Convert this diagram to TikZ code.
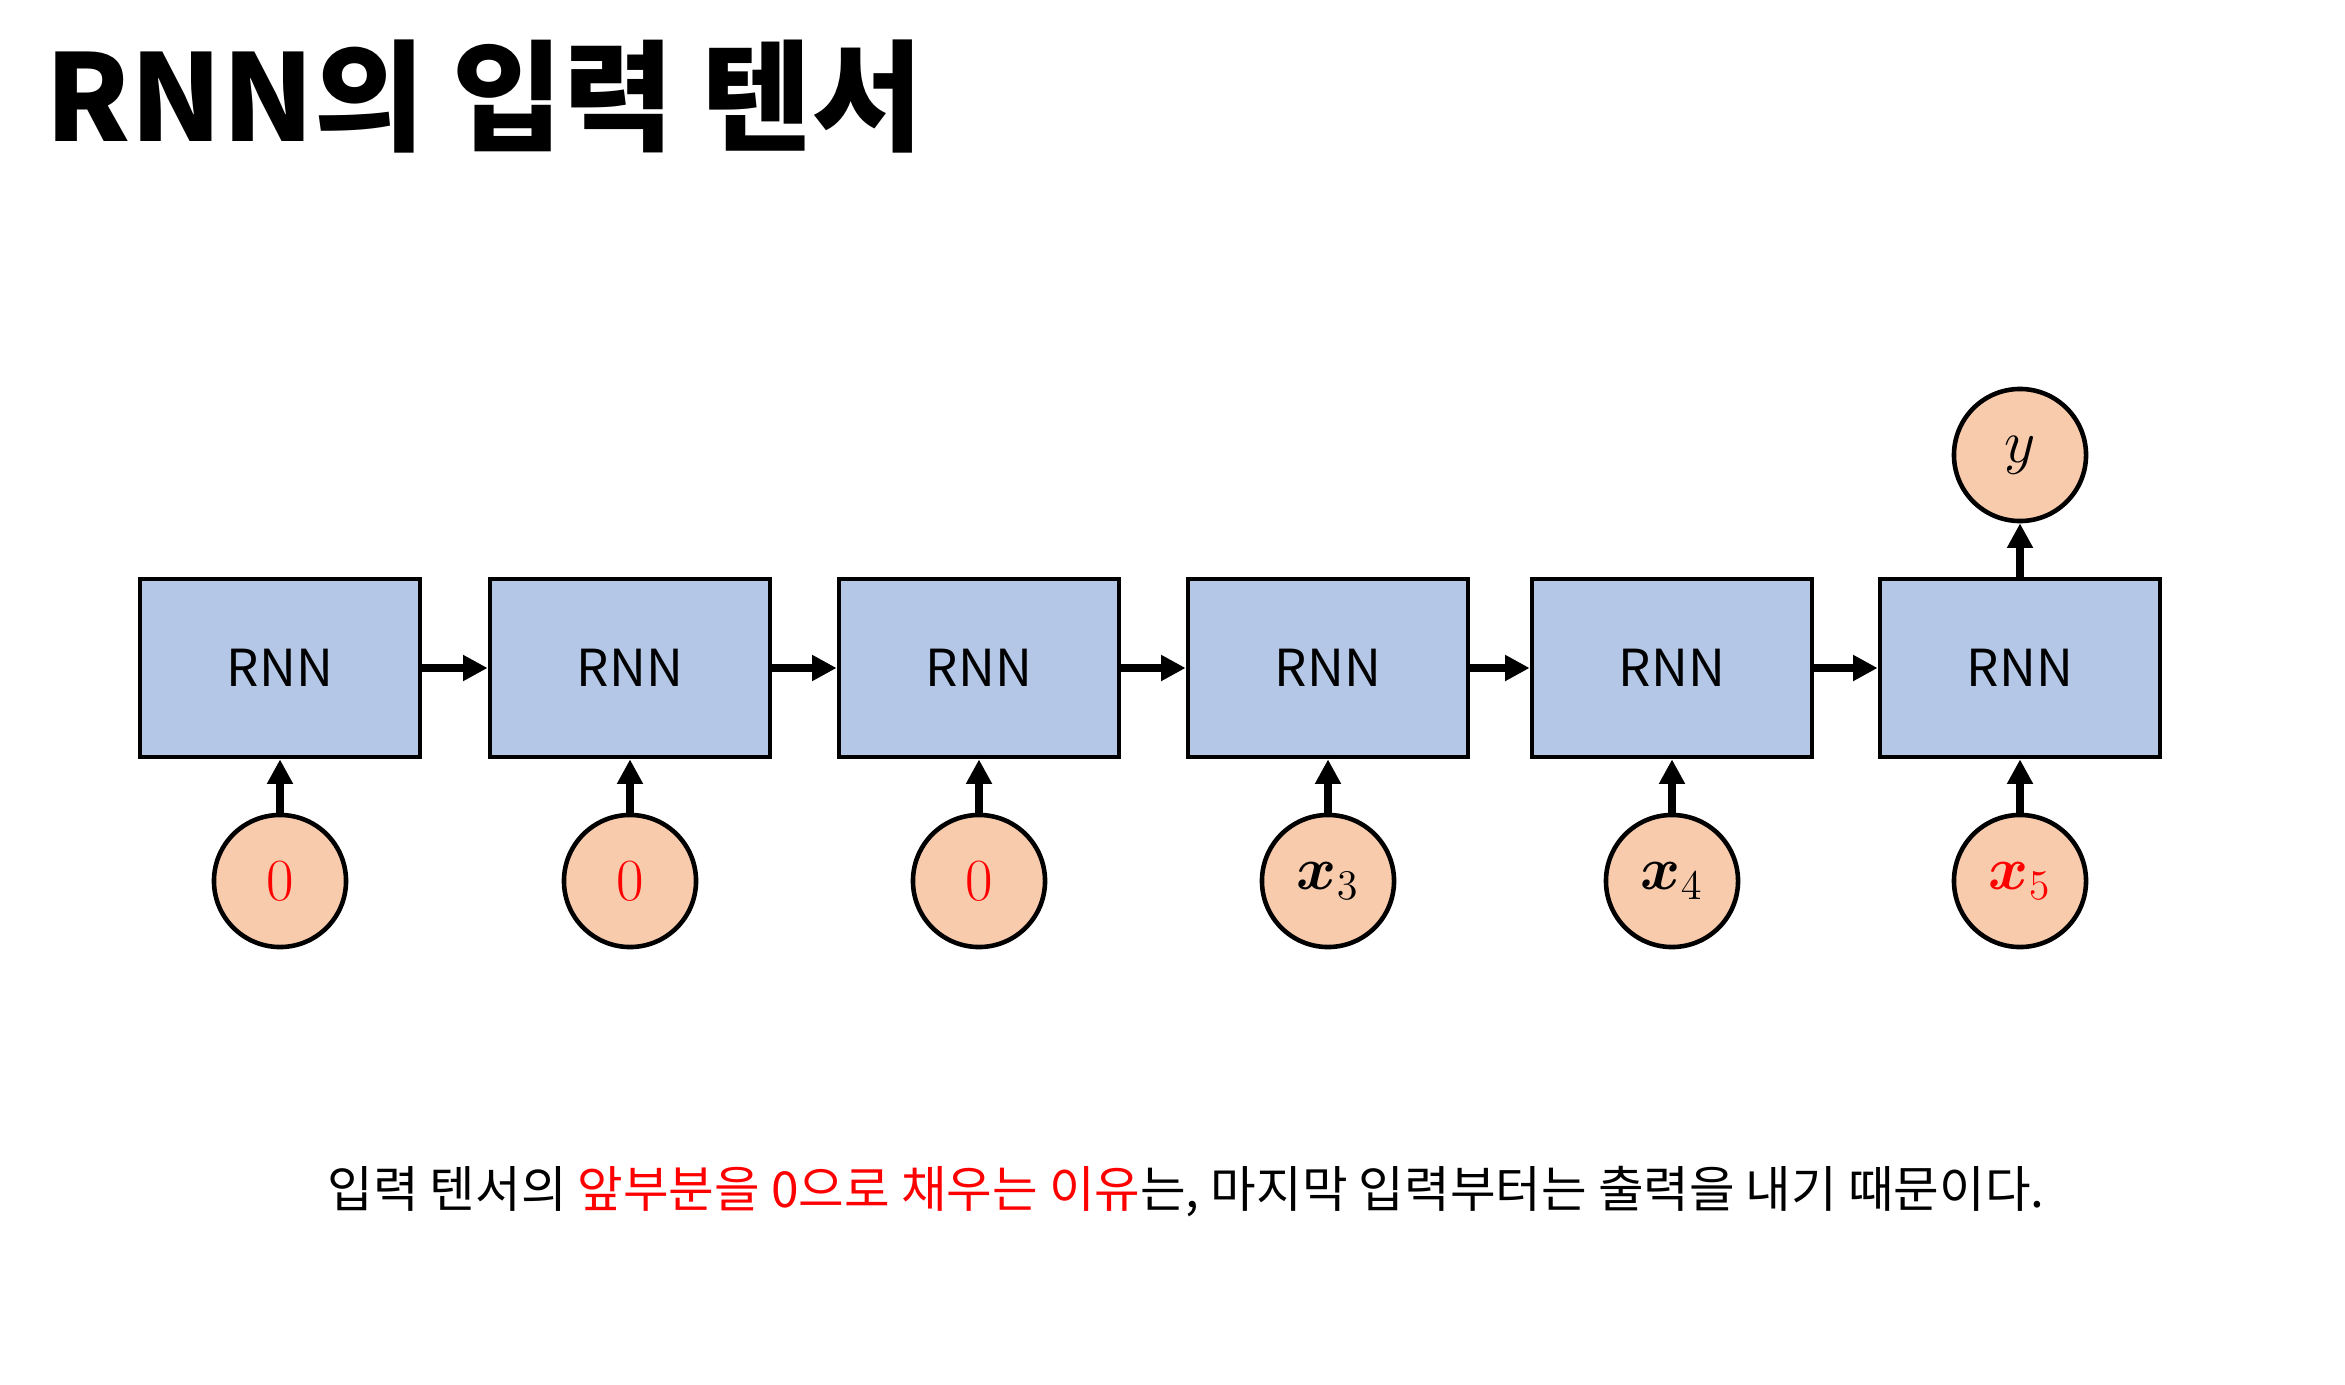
\documentclass[tikz,border=0pt]{standalone}
\usepackage{fontspec}
\usepackage{amsmath,bm}
\newfontfamily\kr{Noto Sans CJK KR}
\usetikzlibrary{arrows.meta}

\definecolor{cellblue}{HTML}{B4C7E7}
\definecolor{datapeach}{HTML}{F8CBAD}
\definecolor{hotred}{HTML}{FF0000}

\begin{document}
\begin{tikzpicture}[x=0.01cm, y=-0.01cm,
  cell/.style={draw, line width=1.3pt, fill=cellblue, minimum width=2.8cm, minimum height=1.78cm, font=\kr\fontsize{14.5}{16}\selectfont},
  datum/.style={draw, circle, line width=1.3pt, fill=datapeach, minimum size=1.32cm, inner sep=0pt, font=\fontsize{17}{19}\selectfont},
  flow/.style={line width=2.2pt, -{Triangle[length=7pt,width=7pt]}}]
\useasboundingbox (0,0) rectangle (2345,1385);
% title
\node[anchor=base west, inner sep=0pt, font=\kr\bfseries\fontsize{34.2}{40}\selectfont] (title) at (45,142) {RNN의 입력 텐서};
% cells
\node[cell] (r1) at (280,668) {RNN};
\node[cell] (r2) at (630,668) {RNN};
\node[cell] (r3) at (979,668) {RNN};
\node[cell] (r4) at (1328,668) {RNN};
\node[cell] (r5) at (1672,668) {RNN};
\node[cell] (r6) at (2020,668) {RNN};
% inputs and output
\node[datum] (in1) at (280,881) {\textcolor{hotred}{0}};
\node[datum] (in2) at (630,881) {\textcolor{hotred}{0}};
\node[datum] (in3) at (979,881) {\textcolor{hotred}{0}};
\node[datum] (in4) at (1328,881) {$\bm{x}_3$};
\node[datum] (in5) at (1672,881) {$\bm{x}_4$};
\node[datum] (in6) at (2020,881) {\color{hotred}$\bm{x}_5$};
\node[datum] (out) at (2020,455) {$y$};
% arrows
\draw[flow] (r1) -- (r2);
\draw[flow] (r2) -- (r3);
\draw[flow] (r3) -- (r4);
\draw[flow] (r4) -- (r5);
\draw[flow] (r5) -- (r6);
\draw[flow] (in1) -- (r1);
\draw[flow] (in2) -- (r2);
\draw[flow] (in3) -- (r3);
\draw[flow] (in4) -- (r4);
\draw[flow] (in5) -- (r5);
\draw[flow] (in6) -- (r6);
\draw[flow] (r6) -- (out);
% caption
\node[font=\kr\fontsize{14.1}{17}\selectfont] (note) at (1186,1192) {입력 텐서의 \textcolor{hotred}{앞부분을 0으로 채우는 이유}는, 마지막 입력부터는 출력을 내기 때문이다.};
\end{tikzpicture}
\end{document}
